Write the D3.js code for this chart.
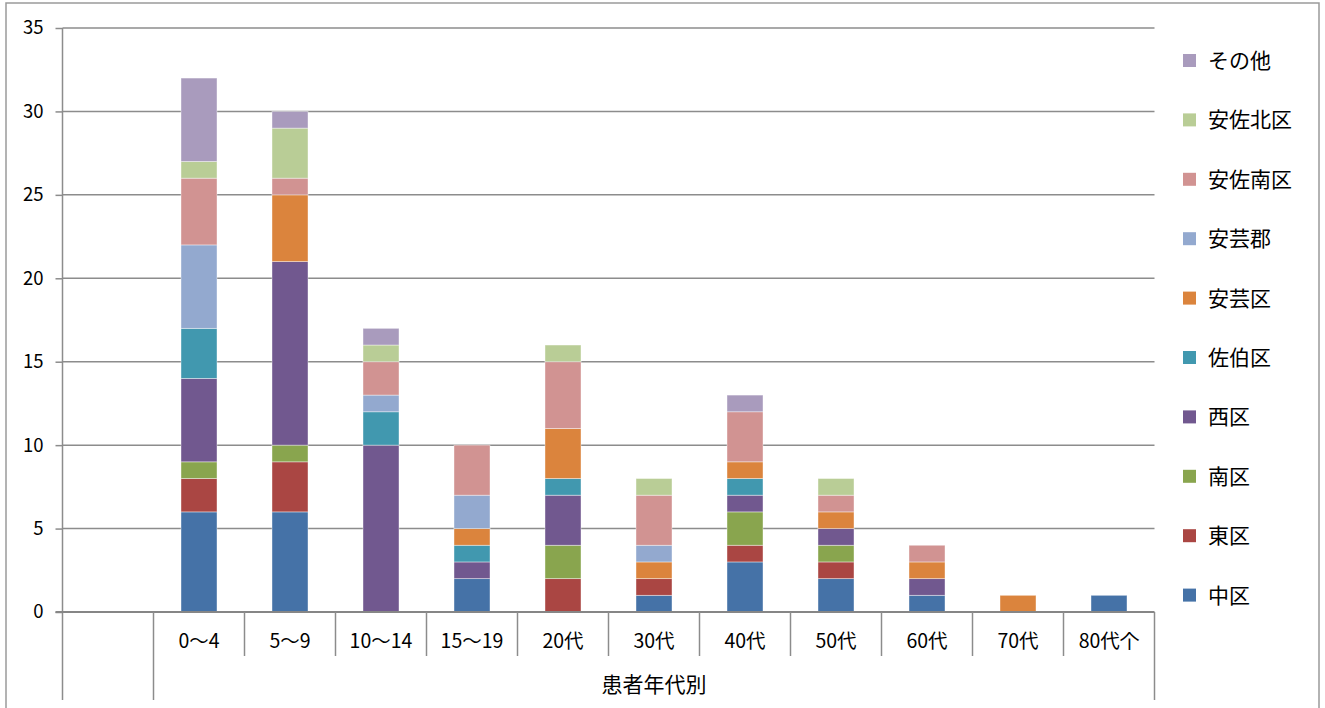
<!DOCTYPE html>
<html>
<head>
<meta charset="utf-8">
<script src="https://cdn.jsdelivr.net/npm/d3@7"></script>
<style>
  body { margin: 0; background: #fff; }
  text { font-family: "Noto Sans CJK JP", "Open Sans", sans-serif; fill: #000; }
</style>
</head>
<body>
<script>
const w = 1325;
const h = 708;

// categories (first slot is empty in the original sheet)
const categories = ["", "0〜4", "5〜9", "10〜14", "15〜19", "20代", "30代", "40代", "50代", "60代", "70代", "80代个"];
const groupLabel = "患者年代別";

const naka      = [0, 6, 6, 0, 2, 0, 1, 3, 2, 1, 0, 1];
const higashi   = [0, 2, 3, 0, 0, 2, 1, 1, 1, 0, 0, 0];
const minami    = [0, 1, 1, 0, 0, 2, 0, 2, 1, 0, 0, 0];
const nishi     = [0, 5, 11, 10, 1, 3, 0, 1, 1, 1, 0, 0];
const saeki     = [0, 3, 0, 2, 1, 1, 0, 1, 0, 0, 0, 0];
const akiku     = [0, 0, 4, 0, 1, 3, 1, 1, 1, 1, 1, 0];
const akigun    = [0, 5, 0, 1, 2, 0, 1, 0, 0, 0, 0, 0];
const asaminami = [0, 4, 1, 2, 3, 4, 3, 3, 1, 1, 0, 0];
const asakita   = [0, 1, 3, 1, 0, 1, 1, 0, 1, 0, 0, 0];
const others    = [0, 5, 1, 1, 0, 0, 0, 1, 0, 0, 0, 0];

const seriesNames = ["中区", "東区", "南区", "西区", "佐伯区", "安芸区", "安芸郡", "安佐南区", "安佐北区", "その他"];
const seriesValues = [naka, higashi, minami, nishi, saeki, akiku, akigun, asaminami, asakita, others];
const colors = ["#4572A7", "#AA4643", "#89A54E", "#71588F", "#4198AF", "#DB843D", "#93A9CF", "#D19392", "#B9CD96", "#A99BBD"];

const yTicks = [0, 5, 10, 15, 20, 25, 30, 35];

const plotLeft = 62.5, plotRight = 1154.5, plotTop = 28, plotBottom = 612;

const svg = d3.select("body").append("svg").attr("width", w).attr("height", h);

// outer chart border
svg.append("rect")
  .attr("x", 6).attr("y", 3).attr("width", 1313).attr("height", h + 10)
  .attr("fill", "none").attr("stroke", "#9a9a9a").attr("stroke-width", 1.5);

const table = categories.map((c, i) => {
  const row = { cat: c };
  seriesNames.forEach((s, j) => { row[s] = seriesValues[j][i]; });
  return row;
});

const stacked = d3.stack().keys(seriesNames)(table);

const xScale = d3.scaleBand().domain(categories).range([plotLeft, plotRight]).paddingInner(0).paddingOuter(0);
const yScale = d3.scaleLinear().domain([0, 35]).range([plotBottom, plotTop]);

// gridlines
svg.append("g")
  .selectAll("line")
  .data(yTicks.slice(1))
  .enter()
  .append("line")
  .attr("x1", plotLeft).attr("x2", plotRight)
  .attr("y1", d => yScale(d)).attr("y2", d => yScale(d))
  .attr("stroke", "#8c8c8c").attr("stroke-width", 1.5);

// y axis
const yAxis = d3.axisLeft(yScale).tickValues(yTicks).tickSize(7).tickPadding(12);
const yg = svg.append("g")
  .attr("transform", "translate(" + plotLeft + ",0)")
  .call(yAxis);
yg.select(".domain").remove();
yg.selectAll("line").attr("stroke", "#8c8c8c").attr("stroke-width", 1.5);
yg.selectAll("text").style("font-size", "18.5px").attr("font-family", "'Open Sans', sans-serif");

// bars
const bw = 36;
svg.append("g")
  .selectAll("g")
  .data(stacked)
  .enter()
  .append("g")
  .attr("fill", (d, i) => colors[i])
  .selectAll("rect")
  .data(d => d.filter(p => p[1] - p[0] > 0))
  .enter()
  .append("rect")
  .attr("x", d => xScale(d.data.cat) + (xScale.bandwidth() - bw) / 2)
  .attr("y", d => yScale(d[1]))
  .attr("width", bw)
  .attr("height", d => yScale(d[0]) - yScale(d[1]))
  .attr("stroke", "#ffffff").attr("stroke-opacity", 0.5).attr("stroke-width", 0.8);

// vertical axis line (extends into category area)
svg.append("line")
  .attr("x1", plotLeft).attr("x2", plotLeft).attr("y1", plotTop).attr("y2", 700)
  .attr("stroke", "#8c8c8c").attr("stroke-width", 1.5);

// zero line
svg.append("line")
  .attr("x1", plotLeft - 7).attr("x2", plotRight).attr("y1", plotBottom).attr("y2", plotBottom)
  .attr("stroke", "#868686").attr("stroke-width", 2);

// category dividers
const dividers = categories.slice(1).map(c => xScale(c)).concat([plotRight]);
svg.append("g")
  .selectAll("line")
  .data(dividers)
  .enter()
  .append("line")
  .attr("x1", d => d).attr("x2", d => d)
  .attr("y1", plotBottom)
  .attr("y2", (d, i) => (i === 0 || i === dividers.length - 1) ? 700 : 656)
  .attr("stroke", "#8c8c8c").attr("stroke-width", 1.5);

// category labels
svg.append("g")
  .selectAll("text")
  .data(categories)
  .enter()
  .append("text")
  .attr("x", d => xScale(d) + xScale.bandwidth() / 2)
  .attr("y", 648)
  .attr("text-anchor", "middle")
  .style("font-size", "19.5px")
  .text(d => d);

// group label
svg.append("text")
  .attr("x", (xScale(categories[1]) + plotRight) / 2)
  .attr("y", 692)
  .attr("text-anchor", "middle")
  .style("font-size", "21px")
  .text(groupLabel);

// legend (top to bottom in reverse order)
const legendItems = seriesNames.map((s, i) => ({ name: s, color: colors[i] })).reverse();
const legend = svg.append("g").attr("transform", "translate(1183,0)");
legend.selectAll("rect")
  .data(legendItems)
  .enter()
  .append("rect")
  .attr("x", 0)
  .attr("y", (d, i) => 54 + i * 59.4)
  .attr("width", 13).attr("height", 13)
  .attr("fill", d => d.color);
legend.selectAll("text")
  .data(legendItems)
  .enter()
  .append("text")
  .attr("x", 25)
  .attr("y", (d, i) => 68 + i * 59.4)
  .style("font-size", "21px")
  .text(d => d.name);
</script>
</body>
</html>
